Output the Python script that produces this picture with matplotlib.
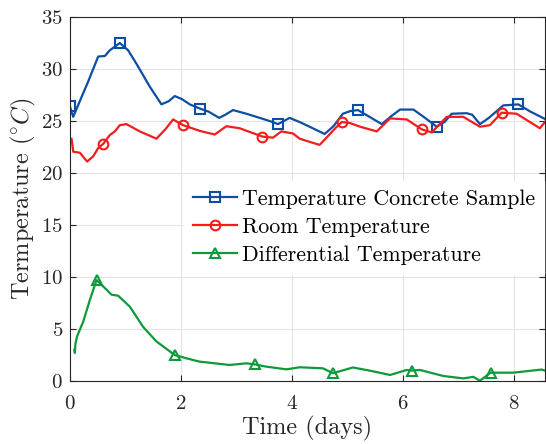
import numpy as np
import matplotlib
matplotlib.use('Agg')
import matplotlib.pyplot as plt

plt.rcParams['font.family'] = 'serif'
plt.rcParams['font.serif'] = ['cmr10']
plt.rcParams['mathtext.fontset'] = 'cm'
plt.rcParams['axes.formatter.use_mathtext'] = True

# concrete sample temperature
t_conc = [0.00, 0.06, 0.21, 0.33, 0.51, 0.63, 0.72, 0.90, 1.05, 1.20, 1.44, 1.65, 1.78, 1.89, 2.02,
          2.16, 2.34, 2.50, 2.69, 2.80, 2.94, 3.18, 3.42, 3.60, 3.75, 3.96, 4.14, 4.32, 4.59, 4.75,
          4.92, 5.05, 5.19, 5.40, 5.62, 5.80, 5.95, 6.19, 6.40, 6.61, 6.75, 6.88, 7.15, 7.25, 7.39,
          7.55, 7.81, 8.08, 8.30, 8.56]
T_conc = [26.4, 25.4, 27.3, 28.8, 31.2, 31.25, 31.8, 32.5, 31.8, 30.5, 28.3, 26.6, 26.9, 27.4, 27.1,
          26.6, 26.2, 25.9, 25.3, 25.6, 26.05, 25.7, 25.3, 25.0, 24.7, 25.3, 24.9, 24.45, 23.75, 24.5,
          25.7, 25.95, 26.05, 25.4, 24.7, 25.5, 26.1, 26.1, 25.3, 24.45, 24.9, 25.7, 25.75, 25.6, 24.7,
          25.3, 26.5, 26.6, 25.9, 25.2]
mk_conc = [0.00, 0.90, 2.34, 3.75, 5.19, 6.61, 8.08]

# room temperature
t_room = [0.00, 0.03, 0.06, 0.18, 0.31, 0.42, 0.51, 0.60, 0.72, 0.81, 0.90, 1.02, 1.26, 1.56, 1.72,
          1.86, 2.04, 2.34, 2.61, 2.82, 3.06, 3.47, 3.66, 3.81, 4.02, 4.14, 4.50, 4.80, 4.90, 5.05,
          5.23, 5.53, 5.77, 6.07, 6.34, 6.52, 6.79, 7.09, 7.39, 7.57, 7.78, 8.05, 8.47, 8.56]
T_room = [22.85, 23.3, 22.05, 21.95, 21.1, 21.6, 22.4, 22.8, 23.65, 24.0, 24.6, 24.7, 24.0, 23.3, 24.2,
          25.15, 24.6, 24.05, 23.7, 24.5, 24.3, 23.5, 23.4, 24.0, 23.8, 23.3, 22.7, 24.4, 24.9, 24.8,
          24.45, 24.0, 25.25, 25.15, 24.2, 23.9, 25.4, 25.4, 24.45, 24.6, 25.8, 25.7, 24.3, 24.9]
mk_room = [0.60, 2.04, 3.47, 4.90, 6.34, 7.78]

# differential temperature
t_diff = [0.08, 0.09, 0.10, 0.13, 0.24, 0.36, 0.48, 0.60, 0.75, 0.87, 1.08, 1.32, 1.56, 1.89, 2.10,
          2.34, 2.88, 3.18, 3.33, 3.54, 3.90, 4.14, 4.56, 4.74, 5.10, 5.40, 5.77, 6.07, 6.16, 6.31,
          6.73, 7.09, 7.27, 7.39, 7.58, 7.99, 8.50, 8.56]
T_diff = [3.0, 2.7, 3.6, 4.3, 5.7, 7.8, 9.7, 9.1, 8.3, 8.2, 7.15, 5.2, 3.8, 2.5, 2.18,
          1.86, 1.54, 1.7, 1.6, 1.38, 1.12, 1.32, 1.22, 0.75, 1.3, 1.0, 0.58, 1.06, 1.0, 1.06,
          0.48, 0.25, 0.4, 0.03, 0.8, 0.8, 1.1, 1.0]
mk_diff = [0.48, 1.89, 3.33, 4.74, 6.16, 7.58]

fig = plt.figure(figsize=(5.46, 4.44), dpi=100)
ax = fig.add_axes([0.128, 0.1419, 0.870, 0.8198])

def series(t, T, mk, col, m, lab):
    idx = [t.index(v) for v in mk]
    ax.plot(t, T, color=col, lw=1.6, marker=m, markevery=idx, ms=7,
            mfc='none', mec=col, mew=1.5, label=lab)

series(t_conc, T_conc, mk_conc, '#0c4ea2', 's', 'Temperature Concrete Sample')
series(t_room, T_room, mk_room, '#f41c1c', 'o', 'Room Temperature')
series(t_diff, T_diff, mk_diff, '#0e9a3a', '^', 'Differential Temperature')

ax.set_xlim(0, 8.56)
ax.set_ylim(0, 35)
ax.set_xticks([0, 2, 4, 6, 8])
ax.set_yticks(np.arange(0, 36, 5))
ax.grid(True, color='#e3e3e3', lw=0.8)
ax.set_axisbelow(True)
for s in ax.spines.values():
    s.set_color('#262626')
    s.set_linewidth(0.8)
ax.tick_params(direction='in', length=4, width=0.8, colors='#262626',
               labelsize=15, top=True, right=True, pad=5)
ax.tick_params(axis='x', pad=10)

ax.set_xlabel('Time (days)', fontsize=17.5, color='#262626', labelpad=2)
ax.set_ylabel(r'Termperature ($^{\circ}C$)', fontsize=17.5, color='#262626', labelpad=2)

leg = ax.legend(loc='upper left', bbox_to_anchor=(0.24, 0.55), borderaxespad=0,
                fontsize=15.8, frameon=True, fancybox=False, edgecolor='white',
                framealpha=1, handlelength=2.0, handletextpad=0.23, labelspacing=0.38)

fig.savefig('out.png', dpi=100)
